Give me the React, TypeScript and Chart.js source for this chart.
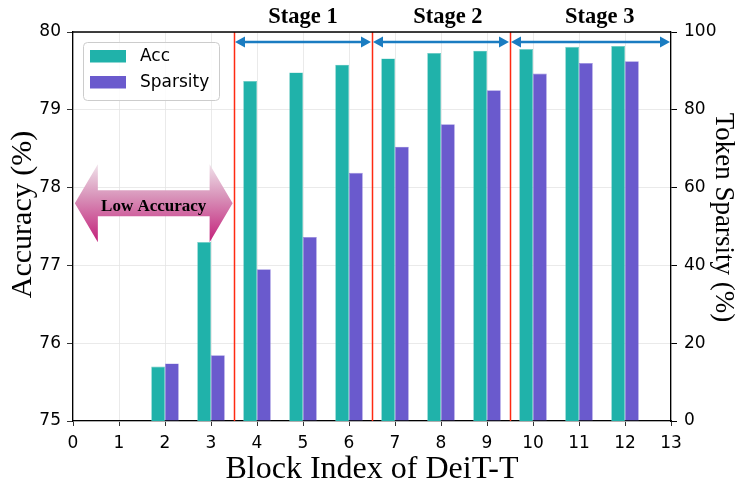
import React, { useEffect, useRef } from "react";
import { Chart, registerables } from "chart.js";

Chart.register(...registerables);

// ---- data ----
const blocks = [2, 3, 4, 5, 6, 7, 8, 9, 10, 11, 12];
const accValues = [75.7, 77.3, 79.37, 79.48, 79.58, 79.66, 79.73, 79.76, 79.78, 79.81, 79.82];
const sparsityValues = [14.8, 16.9, 39.0, 47.3, 63.8, 70.5, 76.3, 85.0, 89.3, 92.0, 92.5];
const seriesLabels = ["Acc", "Sparsity"];
const seriesColors = ["#20b2aa", "#6a5acd"];
const seriesEdges = ["#6fcbc4", "#978ade"];
const stageBounds = [3.5, 6.5, 9.5];
const stageArrowStarts = [3.5, 6.5, 9.5];
const stageArrowEnds = [6.5, 9.5, 13];
const stageArrowY = 79.87;
const stageNames = ["Stage 1", "Stage 2", "Stage 3"];
const stageLabelX = [5.0, 8.15, 11.45];
const lowAccText = "Low Accuracy";
const lowAccFrom = 0.04;
const lowAccTo = 3.47;
const lowAccY = 77.8;
const xTitle = "Block Index of DeiT-T";
const yTitle = "Accuracy (%)";
const y1Title = "Token Sparsity (%)";

const overlayPlugin = {
  id: "overlay",
  afterDatasetsDraw(chart: any) {
    const { ctx, chartArea, scales } = chart;
    const xs = scales.x;
    const ys = scales.y;
    const { left, right, top, bottom } = chartArea;
    ctx.save();

    // red stage boundaries
    ctx.strokeStyle = "#ff2a12";
    ctx.lineWidth = 1.5;
    stageBounds.forEach((b) => {
      const px = Math.round(xs.getPixelForValue(b)) + 0.5;
      ctx.beginPath();
      ctx.moveTo(px, top);
      ctx.lineTo(px, bottom);
      ctx.stroke();
    });

    // blue double arrows
    const ay = ys.getPixelForValue(stageArrowY);
    ctx.strokeStyle = "#1a7cc1";
    ctx.fillStyle = "#1a7cc1";
    ctx.lineWidth = 2.5;
    stageArrowStarts.forEach((s, i) => {
      const x0 = xs.getPixelForValue(s) + 1;
      const x1 = xs.getPixelForValue(stageArrowEnds[i]) - 1;
      const hl = 10;
      const hw = 5.5;
      ctx.beginPath();
      ctx.moveTo(x0 + hl - 1, ay);
      ctx.lineTo(x1 - hl + 1, ay);
      ctx.stroke();
      ctx.beginPath();
      ctx.moveTo(x0, ay);
      ctx.lineTo(x0 + hl, ay - hw);
      ctx.lineTo(x0 + hl, ay + hw);
      ctx.closePath();
      ctx.fill();
      ctx.beginPath();
      ctx.moveTo(x1, ay);
      ctx.lineTo(x1 - hl, ay - hw);
      ctx.lineTo(x1 - hl, ay + hw);
      ctx.closePath();
      ctx.fill();
    });

    // stage labels
    ctx.fillStyle = "#000";
    ctx.font = "bold 22.5px 'Liberation Serif'";
    ctx.textAlign = "center";
    ctx.textBaseline = "alphabetic";
    stageNames.forEach((n, i) => {
      ctx.fillText(n, xs.getPixelForValue(stageLabelX[i]), top - 9);
    });

    // low accuracy double arrow
    const lx0 = xs.getPixelForValue(lowAccFrom);
    const lx1 = xs.getPixelForValue(lowAccTo);
    const ly = ys.getPixelForValue(lowAccY);
    const headL = 23;
    const headH = 39;
    const shaftH = 13;
    const grad = ctx.createLinearGradient(0, ly - headH, 0, ly + headH);
    grad.addColorStop(0, "#f0e2ea");
    grad.addColorStop(0.4, "#d996bb");
    grad.addColorStop(1, "#c3207a");
    ctx.fillStyle = grad;
    ctx.beginPath();
    ctx.moveTo(lx0, ly);
    ctx.lineTo(lx0 + headL, ly - headH);
    ctx.lineTo(lx0 + headL, ly - shaftH);
    ctx.lineTo(lx1 - headL, ly - shaftH);
    ctx.lineTo(lx1 - headL, ly - headH);
    ctx.lineTo(lx1, ly);
    ctx.lineTo(lx1 - headL, ly + headH);
    ctx.lineTo(lx1 - headL, ly + shaftH);
    ctx.lineTo(lx0 + headL, ly + shaftH);
    ctx.lineTo(lx0 + headL, ly + headH);
    ctx.closePath();
    ctx.fill();
    ctx.fillStyle = "#000";
    ctx.font = "bold 17px 'Liberation Serif'";
    ctx.textAlign = "center";
    ctx.textBaseline = "alphabetic";
    ctx.fillText(lowAccText, (lx0 + lx1) / 2, ly + 7.5);

    // legend
    const bx = left + 10;
    const by = top + 10;
    const bw = 136;
    const bh = 58;
    ctx.beginPath();
    if ((ctx as any).roundRect) (ctx as any).roundRect(bx + 0.5, by + 0.5, bw, bh, 4);
    else ctx.rect(bx + 0.5, by + 0.5, bw, bh);
    ctx.fillStyle = "rgba(255,255,255,0.85)";
    ctx.fill();
    ctx.strokeStyle = "#cccccc";
    ctx.lineWidth = 1;
    ctx.stroke();
    ctx.font = "17px 'DejaVu Sans'";
    ctx.textAlign = "left";
    ctx.textBaseline = "middle";
    seriesLabels.forEach((lab, i) => {
      const sy = by + 8 + i * 26;
      ctx.fillStyle = seriesColors[i];
      ctx.fillRect(bx + 7, sy, 36, 12.5);
      ctx.fillStyle = "#000";
      ctx.fillText(lab, bx + 57, sy + 6.5);
    });

    // top spine
    ctx.strokeStyle = "#000";
    ctx.lineWidth = 1.3;
    ctx.beginPath();
    ctx.moveTo(left, top);
    ctx.lineTo(right, top);
    ctx.stroke();

    // side axis titles
    ctx.fillStyle = "#000";
    ctx.textAlign = "center";
    ctx.textBaseline = "middle";
    const midY = (top + bottom) / 2;
    ctx.font = "30px 'Liberation Serif'";
    ctx.save();
    ctx.translate(left - 50, midY - 12);
    ctx.rotate(-Math.PI / 2);
    ctx.fillText(yTitle, 0, 0);
    ctx.restore();
    ctx.font = "27px 'Liberation Serif'";
    ctx.save();
    ctx.translate(right + 52, midY - 9);
    ctx.rotate(Math.PI / 2);
    ctx.fillText(y1Title, 0, 0);
    ctx.restore();

    ctx.restore();
  },
};

export default function App() {
  const ref = useRef<HTMLCanvasElement>(null);
  useEffect(() => {
    if (!ref.current) return;
    const tickFont = { family: "'DejaVu Sans'", size: 17 };
    const chart = new Chart(ref.current, {
      type: "bar",
      data: {
        datasets: [
          {
            label: seriesLabels[0],
            data: blocks.map((b, i) => ({ x: b, y: accValues[i] })),
            backgroundColor: seriesColors[0],
            borderColor: seriesEdges[0],
            borderWidth: 0.6,
            yAxisID: "y",
            categoryPercentage: 0.6,
            barPercentage: 1.0,
          },
          {
            label: seriesLabels[1],
            data: blocks.map((b, i) => ({ x: b, y: sparsityValues[i] })),
            backgroundColor: seriesColors[1],
            borderColor: seriesEdges[1],
            borderWidth: 0.6,
            yAxisID: "y1",
            categoryPercentage: 0.6,
            barPercentage: 1.0,
          },
        ],
      } as any,
      options: {
        animation: false,
        responsive: true,
        maintainAspectRatio: false,
        layout: { padding: { top: 32, left: 0, right: 0, bottom: 0 } },
        plugins: { legend: { display: false }, tooltip: { enabled: false } },
        scales: {
          x: {
            type: "linear",
            min: 0,
            max: 13,
            offset: false,
            ticks: { stepSize: 1, font: tickFont, color: "#000", padding: 7 },
            grid: { offset: false, color: "#e4e4e4", lineWidth: 0.8, tickColor: "#000", tickLength: 5 },
            border: { color: "#000", width: 1.3 },
            title: { display: true, text: xTitle, font: { family: "'Liberation Serif'", size: 32 }, color: "#000", padding: { top: 0, bottom: 3 } },
            afterFit: (s: any) => { s.height = 71; },
          },
          y: {
            type: "linear",
            position: "left",
            min: 75,
            max: 80,
            ticks: { stepSize: 1, font: tickFont, color: "#000", padding: 6 },
            grid: { color: "#e4e4e4", lineWidth: 0.8, tickColor: "#000", tickLength: 6 },
            border: { color: "#000", width: 1.3 },
            afterFit: (s: any) => { s.width = 73; },
          },
          y1: {
            type: "linear",
            position: "right",
            min: 0,
            max: 100,
            ticks: { stepSize: 20, font: tickFont, color: "#000", padding: 7 },
            grid: { drawOnChartArea: false, tickColor: "#000", tickLength: 6 },
            border: { color: "#000", width: 1.3 },
            afterFit: (s: any) => { s.width = 76; },
          },
        },
      } as any,
      plugins: [overlayPlugin],
    });
    return () => chart.destroy();
  }, []);
  return (
    <div style={{ position: "fixed", left: 0, top: 0, width: 747, height: 492, background: "#fff" }}>
      <canvas ref={ref} />
    </div>
  );
}
